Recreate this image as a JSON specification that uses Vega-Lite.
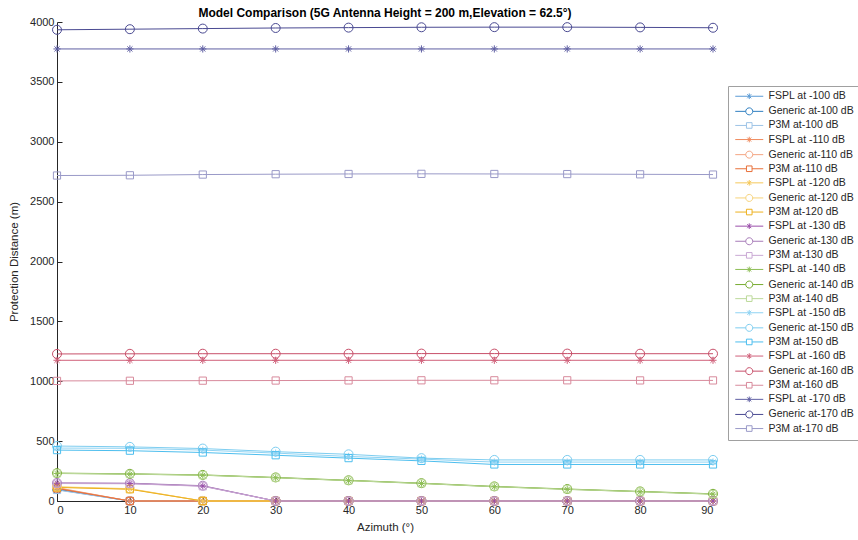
{
  "$schema": "https://vega.github.io/schema/vega-lite/v6.json",
  "autosize": "none",
  "width": 656,
  "height": 479,
  "padding": {"left": 57, "top": 22, "right": 145, "bottom": 39},
  "background": "white",
  "config": {
    "view": {"stroke": null},
    "font": "Liberation Sans",
    "axis": {
      "grid": false,
      "domainColor": "#262626",
      "tickColor": "#262626",
      "labelColor": "#262626",
      "titleColor": "#262626",
      "labelFont": "Liberation Sans",
      "titleFont": "Liberation Sans",
      "labelFontSize": 11,
      "titleFontSize": 11.5,
      "titleFontWeight": "normal",
      "tickSize": -5,
      "labelPadding": 8
    }
  },
  "title": {
    "text": "Model Comparison (5G Antenna Height = 200 m,Elevation = 62.5°)",
    "font": "Liberation Sans",
    "fontSize": 12,
    "fontWeight": "bold",
    "color": "#000000",
    "anchor": "middle",
    "offset": -4
  },
  "data": {
    "values": [
      {"s":"FSPL at -100 dB","a":0,"d":95},{"s":"FSPL at -100 dB","a":10,"d":0},{"s":"FSPL at -100 dB","a":20,"d":0},{"s":"FSPL at -100 dB","a":30,"d":0},{"s":"FSPL at -100 dB","a":40,"d":0},{"s":"FSPL at -100 dB","a":50,"d":0},{"s":"FSPL at -100 dB","a":60,"d":0},{"s":"FSPL at -100 dB","a":70,"d":0},{"s":"FSPL at -100 dB","a":80,"d":0},{"s":"FSPL at -100 dB","a":90,"d":0},
      {"s":"Generic at-100 dB","a":0,"d":100},{"s":"Generic at-100 dB","a":10,"d":0},{"s":"Generic at-100 dB","a":20,"d":0},{"s":"Generic at-100 dB","a":30,"d":0},{"s":"Generic at-100 dB","a":40,"d":0},{"s":"Generic at-100 dB","a":50,"d":0},{"s":"Generic at-100 dB","a":60,"d":0},{"s":"Generic at-100 dB","a":70,"d":0},{"s":"Generic at-100 dB","a":80,"d":0},{"s":"Generic at-100 dB","a":90,"d":0},
      {"s":"P3M at-100 dB","a":0,"d":92},{"s":"P3M at-100 dB","a":10,"d":0},{"s":"P3M at-100 dB","a":20,"d":0},{"s":"P3M at-100 dB","a":30,"d":0},{"s":"P3M at-100 dB","a":40,"d":0},{"s":"P3M at-100 dB","a":50,"d":0},{"s":"P3M at-100 dB","a":60,"d":0},{"s":"P3M at-100 dB","a":70,"d":0},{"s":"P3M at-100 dB","a":80,"d":0},{"s":"P3M at-100 dB","a":90,"d":0},
      {"s":"FSPL at -110 dB","a":0,"d":108},{"s":"FSPL at -110 dB","a":10,"d":0},{"s":"FSPL at -110 dB","a":20,"d":0},{"s":"FSPL at -110 dB","a":30,"d":0},{"s":"FSPL at -110 dB","a":40,"d":0},{"s":"FSPL at -110 dB","a":50,"d":0},{"s":"FSPL at -110 dB","a":60,"d":0},{"s":"FSPL at -110 dB","a":70,"d":0},{"s":"FSPL at -110 dB","a":80,"d":0},{"s":"FSPL at -110 dB","a":90,"d":0},
      {"s":"Generic at-110 dB","a":0,"d":112},{"s":"Generic at-110 dB","a":10,"d":0},{"s":"Generic at-110 dB","a":20,"d":0},{"s":"Generic at-110 dB","a":30,"d":0},{"s":"Generic at-110 dB","a":40,"d":0},{"s":"Generic at-110 dB","a":50,"d":0},{"s":"Generic at-110 dB","a":60,"d":0},{"s":"Generic at-110 dB","a":70,"d":0},{"s":"Generic at-110 dB","a":80,"d":0},{"s":"Generic at-110 dB","a":90,"d":0},
      {"s":"P3M at-110 dB","a":0,"d":105},{"s":"P3M at-110 dB","a":10,"d":0},{"s":"P3M at-110 dB","a":20,"d":0},{"s":"P3M at-110 dB","a":30,"d":0},{"s":"P3M at-110 dB","a":40,"d":0},{"s":"P3M at-110 dB","a":50,"d":0},{"s":"P3M at-110 dB","a":60,"d":0},{"s":"P3M at-110 dB","a":70,"d":0},{"s":"P3M at-110 dB","a":80,"d":0},{"s":"P3M at-110 dB","a":90,"d":0},
      {"s":"FSPL at -120 dB","a":0,"d":116},{"s":"FSPL at -120 dB","a":10,"d":100},{"s":"FSPL at -120 dB","a":20,"d":0},{"s":"FSPL at -120 dB","a":30,"d":0},{"s":"FSPL at -120 dB","a":40,"d":0},{"s":"FSPL at -120 dB","a":50,"d":0},{"s":"FSPL at -120 dB","a":60,"d":0},{"s":"FSPL at -120 dB","a":70,"d":0},{"s":"FSPL at -120 dB","a":80,"d":0},{"s":"FSPL at -120 dB","a":90,"d":0},
      {"s":"Generic at-120 dB","a":0,"d":119},{"s":"Generic at-120 dB","a":10,"d":103},{"s":"Generic at-120 dB","a":20,"d":0},{"s":"Generic at-120 dB","a":30,"d":0},{"s":"Generic at-120 dB","a":40,"d":0},{"s":"Generic at-120 dB","a":50,"d":0},{"s":"Generic at-120 dB","a":60,"d":0},{"s":"Generic at-120 dB","a":70,"d":0},{"s":"Generic at-120 dB","a":80,"d":0},{"s":"Generic at-120 dB","a":90,"d":0},
      {"s":"P3M at-120 dB","a":0,"d":113},{"s":"P3M at-120 dB","a":10,"d":98},{"s":"P3M at-120 dB","a":20,"d":0},{"s":"P3M at-120 dB","a":30,"d":0},{"s":"P3M at-120 dB","a":40,"d":0},{"s":"P3M at-120 dB","a":50,"d":0},{"s":"P3M at-120 dB","a":60,"d":0},{"s":"P3M at-120 dB","a":70,"d":0},{"s":"P3M at-120 dB","a":80,"d":0},{"s":"P3M at-120 dB","a":90,"d":0},
      {"s":"FSPL at -130 dB","a":0,"d":148},{"s":"FSPL at -130 dB","a":10,"d":146},{"s":"FSPL at -130 dB","a":20,"d":125},{"s":"FSPL at -130 dB","a":30,"d":0},{"s":"FSPL at -130 dB","a":40,"d":0},{"s":"FSPL at -130 dB","a":50,"d":0},{"s":"FSPL at -130 dB","a":60,"d":0},{"s":"FSPL at -130 dB","a":70,"d":0},{"s":"FSPL at -130 dB","a":80,"d":0},{"s":"FSPL at -130 dB","a":90,"d":0},
      {"s":"Generic at-130 dB","a":0,"d":151},{"s":"Generic at-130 dB","a":10,"d":149},{"s":"Generic at-130 dB","a":20,"d":128},{"s":"Generic at-130 dB","a":30,"d":0},{"s":"Generic at-130 dB","a":40,"d":0},{"s":"Generic at-130 dB","a":50,"d":0},{"s":"Generic at-130 dB","a":60,"d":0},{"s":"Generic at-130 dB","a":70,"d":0},{"s":"Generic at-130 dB","a":80,"d":0},{"s":"Generic at-130 dB","a":90,"d":0},
      {"s":"P3M at-130 dB","a":0,"d":146},{"s":"P3M at-130 dB","a":10,"d":144},{"s":"P3M at-130 dB","a":20,"d":123},{"s":"P3M at-130 dB","a":30,"d":0},{"s":"P3M at-130 dB","a":40,"d":0},{"s":"P3M at-130 dB","a":50,"d":0},{"s":"P3M at-130 dB","a":60,"d":0},{"s":"P3M at-130 dB","a":70,"d":0},{"s":"P3M at-130 dB","a":80,"d":0},{"s":"P3M at-130 dB","a":90,"d":0},
      {"s":"FSPL at -140 dB","a":0,"d":230},{"s":"FSPL at -140 dB","a":10,"d":224},{"s":"FSPL at -140 dB","a":20,"d":215},{"s":"FSPL at -140 dB","a":30,"d":194},{"s":"FSPL at -140 dB","a":40,"d":170},{"s":"FSPL at -140 dB","a":50,"d":146},{"s":"FSPL at -140 dB","a":60,"d":119},{"s":"FSPL at -140 dB","a":70,"d":97},{"s":"FSPL at -140 dB","a":80,"d":77},{"s":"FSPL at -140 dB","a":90,"d":57},
      {"s":"Generic at-140 dB","a":0,"d":233},{"s":"Generic at-140 dB","a":10,"d":227},{"s":"Generic at-140 dB","a":20,"d":218},{"s":"Generic at-140 dB","a":30,"d":197},{"s":"Generic at-140 dB","a":40,"d":173},{"s":"Generic at-140 dB","a":50,"d":149},{"s":"Generic at-140 dB","a":60,"d":122},{"s":"Generic at-140 dB","a":70,"d":100},{"s":"Generic at-140 dB","a":80,"d":80},{"s":"Generic at-140 dB","a":90,"d":60},
      {"s":"P3M at-140 dB","a":0,"d":231},{"s":"P3M at-140 dB","a":10,"d":225},{"s":"P3M at-140 dB","a":20,"d":216},{"s":"P3M at-140 dB","a":30,"d":195},{"s":"P3M at-140 dB","a":40,"d":171},{"s":"P3M at-140 dB","a":50,"d":147},{"s":"P3M at-140 dB","a":60,"d":120},{"s":"P3M at-140 dB","a":70,"d":98},{"s":"P3M at-140 dB","a":80,"d":78},{"s":"P3M at-140 dB","a":90,"d":58},
      {"s":"FSPL at -150 dB","a":0,"d":442},{"s":"FSPL at -150 dB","a":10,"d":440},{"s":"FSPL at -150 dB","a":20,"d":425},{"s":"FSPL at -150 dB","a":30,"d":400},{"s":"FSPL at -150 dB","a":40,"d":372},{"s":"FSPL at -150 dB","a":50,"d":350},{"s":"FSPL at -150 dB","a":60,"d":325},{"s":"FSPL at -150 dB","a":70,"d":325},{"s":"FSPL at -150 dB","a":80,"d":325},{"s":"FSPL at -150 dB","a":90,"d":325},
      {"s":"Generic at-150 dB","a":0,"d":459},{"s":"Generic at-150 dB","a":10,"d":452},{"s":"Generic at-150 dB","a":20,"d":438},{"s":"Generic at-150 dB","a":30,"d":412},{"s":"Generic at-150 dB","a":40,"d":390},{"s":"Generic at-150 dB","a":50,"d":358},{"s":"Generic at-150 dB","a":60,"d":343},{"s":"Generic at-150 dB","a":70,"d":343},{"s":"Generic at-150 dB","a":80,"d":343},{"s":"Generic at-150 dB","a":90,"d":343},
      {"s":"P3M at-150 dB","a":0,"d":425},{"s":"P3M at-150 dB","a":10,"d":420},{"s":"P3M at-150 dB","a":20,"d":405},{"s":"P3M at-150 dB","a":30,"d":382},{"s":"P3M at-150 dB","a":40,"d":358},{"s":"P3M at-150 dB","a":50,"d":335},{"s":"P3M at-150 dB","a":60,"d":305},{"s":"P3M at-150 dB","a":70,"d":305},{"s":"P3M at-150 dB","a":80,"d":305},{"s":"P3M at-150 dB","a":90,"d":305},
      {"s":"FSPL at -160 dB","a":0,"d":1175},{"s":"FSPL at -160 dB","a":10,"d":1175},{"s":"FSPL at -160 dB","a":20,"d":1175},{"s":"FSPL at -160 dB","a":30,"d":1175},{"s":"FSPL at -160 dB","a":40,"d":1175},{"s":"FSPL at -160 dB","a":50,"d":1175},{"s":"FSPL at -160 dB","a":60,"d":1175},{"s":"FSPL at -160 dB","a":70,"d":1175},{"s":"FSPL at -160 dB","a":80,"d":1175},{"s":"FSPL at -160 dB","a":90,"d":1175},
      {"s":"Generic at-160 dB","a":0,"d":1228},{"s":"Generic at-160 dB","a":10,"d":1229},{"s":"Generic at-160 dB","a":20,"d":1230},{"s":"Generic at-160 dB","a":30,"d":1230},{"s":"Generic at-160 dB","a":40,"d":1230},{"s":"Generic at-160 dB","a":50,"d":1231},{"s":"Generic at-160 dB","a":60,"d":1231},{"s":"Generic at-160 dB","a":70,"d":1231},{"s":"Generic at-160 dB","a":80,"d":1230},{"s":"Generic at-160 dB","a":90,"d":1230},
      {"s":"P3M at-160 dB","a":0,"d":1003},{"s":"P3M at-160 dB","a":10,"d":1004},{"s":"P3M at-160 dB","a":20,"d":1005},{"s":"P3M at-160 dB","a":30,"d":1006},{"s":"P3M at-160 dB","a":40,"d":1007},{"s":"P3M at-160 dB","a":50,"d":1008},{"s":"P3M at-160 dB","a":60,"d":1008},{"s":"P3M at-160 dB","a":70,"d":1008},{"s":"P3M at-160 dB","a":80,"d":1007},{"s":"P3M at-160 dB","a":90,"d":1007},
      {"s":"FSPL at -170 dB","a":0,"d":3775},{"s":"FSPL at -170 dB","a":10,"d":3775},{"s":"FSPL at -170 dB","a":20,"d":3775},{"s":"FSPL at -170 dB","a":30,"d":3775},{"s":"FSPL at -170 dB","a":40,"d":3775},{"s":"FSPL at -170 dB","a":50,"d":3775},{"s":"FSPL at -170 dB","a":60,"d":3775},{"s":"FSPL at -170 dB","a":70,"d":3775},{"s":"FSPL at -170 dB","a":80,"d":3775},{"s":"FSPL at -170 dB","a":90,"d":3775},
      {"s":"Generic at-170 dB","a":0,"d":3935},{"s":"Generic at-170 dB","a":10,"d":3940},{"s":"Generic at-170 dB","a":20,"d":3945},{"s":"Generic at-170 dB","a":30,"d":3950},{"s":"Generic at-170 dB","a":40,"d":3953},{"s":"Generic at-170 dB","a":50,"d":3956},{"s":"Generic at-170 dB","a":60,"d":3957},{"s":"Generic at-170 dB","a":70,"d":3957},{"s":"Generic at-170 dB","a":80,"d":3955},{"s":"Generic at-170 dB","a":90,"d":3952},
      {"s":"P3M at-170 dB","a":0,"d":2718},{"s":"P3M at-170 dB","a":10,"d":2720},{"s":"P3M at-170 dB","a":20,"d":2726},{"s":"P3M at-170 dB","a":30,"d":2729},{"s":"P3M at-170 dB","a":40,"d":2731},{"s":"P3M at-170 dB","a":50,"d":2732},{"s":"P3M at-170 dB","a":60,"d":2731},{"s":"P3M at-170 dB","a":70,"d":2730},{"s":"P3M at-170 dB","a":80,"d":2728},{"s":"P3M at-170 dB","a":90,"d":2726}
    ]
  },
  "encoding": {
    "x": {
      "field": "a", "type": "quantitative", "title": "Azimuth (°)",
      "scale": {"domain": [0, 90], "nice": false},
      "axis": {"values": [0,10,20,30,40,50,60,70,80,90], "titlePadding": 6}
    },
    "y": {
      "field": "d", "type": "quantitative", "title": "Protection Distance (m)",
      "scale": {"domain": [0, 4000], "nice": false},
      "axis": {"values": [0,500,1000,1500,2000,2500,3000,3500,4000], "format": "d", "titlePadding": 10}
    },
    "color": {
      "field": "s", "type": "nominal", "legend": null,
      "scale": {
        "domain": ["FSPL at -100 dB","Generic at-100 dB","P3M at-100 dB","FSPL at -110 dB","Generic at-110 dB","P3M at-110 dB","FSPL at -120 dB","Generic at-120 dB","P3M at-120 dB","FSPL at -130 dB","Generic at-130 dB","P3M at-130 dB","FSPL at -140 dB","Generic at-140 dB","P3M at-140 dB","FSPL at -150 dB","Generic at-150 dB","P3M at-150 dB","FSPL at -160 dB","Generic at-160 dB","P3M at-160 dB","FSPL at -170 dB","Generic at-170 dB","P3M at-170 dB"],
        "range": ["#5b9bd5","#2f7fc1","#9dc3e6","#f08a5d","#f4a582","#e8703a","#f5c85a","#f7d37a","#edb120","#9a4faa","#a77bb8","#c9a8d4","#8dbe54","#77ac30","#bcd99a","#8fd3f3","#7dcdf0","#4dbeee","#d0607a","#c8506a","#d88a9c","#5f5fa3","#4a4a92","#9a9ac8"]
      }
    }
  },
  "layer": [
    {
      "mark": {"type": "line", "strokeWidth": 1},
      "encoding": {"order": {"field": "a", "type": "quantitative"}}
    },
    {
      "mark": {"type": "point", "filled": false, "strokeWidth": 1, "size": 81, "opacity": 1},
      "encoding": {
        "shape": {
          "field": "s", "type": "nominal", "legend": null,
          "scale": {
            "domain": ["FSPL at -100 dB","Generic at-100 dB","P3M at-100 dB","FSPL at -110 dB","Generic at-110 dB","P3M at-110 dB","FSPL at -120 dB","Generic at-120 dB","P3M at-120 dB","FSPL at -130 dB","Generic at-130 dB","P3M at-130 dB","FSPL at -140 dB","Generic at-140 dB","P3M at-140 dB","FSPL at -150 dB","Generic at-150 dB","P3M at-150 dB","FSPL at -160 dB","Generic at-160 dB","P3M at-160 dB","FSPL at -170 dB","Generic at-170 dB","P3M at-170 dB"],
            "range": [
              "M-0.8,0H0.8M0,-0.8V0.8M-0.57,-0.57L0.57,0.57M-0.57,0.57L0.57,-0.57","M1,0A1,1,0,1,1,-1,0A1,1,0,1,1,1,0Z","M-0.8,-0.8H0.8V0.8H-0.8Z",
              "M-0.8,0H0.8M0,-0.8V0.8M-0.57,-0.57L0.57,0.57M-0.57,0.57L0.57,-0.57","M1,0A1,1,0,1,1,-1,0A1,1,0,1,1,1,0Z","M-0.8,-0.8H0.8V0.8H-0.8Z",
              "M-0.8,0H0.8M0,-0.8V0.8M-0.57,-0.57L0.57,0.57M-0.57,0.57L0.57,-0.57","M1,0A1,1,0,1,1,-1,0A1,1,0,1,1,1,0Z","M-0.8,-0.8H0.8V0.8H-0.8Z",
              "M-0.8,0H0.8M0,-0.8V0.8M-0.57,-0.57L0.57,0.57M-0.57,0.57L0.57,-0.57","M1,0A1,1,0,1,1,-1,0A1,1,0,1,1,1,0Z","M-0.8,-0.8H0.8V0.8H-0.8Z",
              "M-0.8,0H0.8M0,-0.8V0.8M-0.57,-0.57L0.57,0.57M-0.57,0.57L0.57,-0.57","M1,0A1,1,0,1,1,-1,0A1,1,0,1,1,1,0Z","M-0.8,-0.8H0.8V0.8H-0.8Z",
              "M-0.8,0H0.8M0,-0.8V0.8M-0.57,-0.57L0.57,0.57M-0.57,0.57L0.57,-0.57","M1,0A1,1,0,1,1,-1,0A1,1,0,1,1,1,0Z","M-0.8,-0.8H0.8V0.8H-0.8Z",
              "M-0.8,0H0.8M0,-0.8V0.8M-0.57,-0.57L0.57,0.57M-0.57,0.57L0.57,-0.57","M1,0A1,1,0,1,1,-1,0A1,1,0,1,1,1,0Z","M-0.8,-0.8H0.8V0.8H-0.8Z",
              "M-0.8,0H0.8M0,-0.8V0.8M-0.57,-0.57L0.57,0.57M-0.57,0.57L0.57,-0.57","M1,0A1,1,0,1,1,-1,0A1,1,0,1,1,1,0Z","M-0.8,-0.8H0.8V0.8H-0.8Z"
            ]
          }
        }
      }
    },
    {
      "transform": [{"filter": "false"}],
      "mark": {"type": "point", "filled": false, "strokeWidth": 1, "size": 49, "opacity": 1},
      "encoding": {
        "shape": {
          "field": "s", "type": "nominal",
          "scale": {
            "domain": ["FSPL at -100 dB","Generic at-100 dB","P3M at-100 dB","FSPL at -110 dB","Generic at-110 dB","P3M at-110 dB","FSPL at -120 dB","Generic at-120 dB","P3M at-120 dB","FSPL at -130 dB","Generic at-130 dB","P3M at-130 dB","FSPL at -140 dB","Generic at-140 dB","P3M at-140 dB","FSPL at -150 dB","Generic at-150 dB","P3M at-150 dB","FSPL at -160 dB","Generic at-160 dB","P3M at-160 dB","FSPL at -170 dB","Generic at-170 dB","P3M at-170 dB"],
            "range": [
              "M-4,0H4M0,-0.8V0.8M-0.57,-0.57L0.57,0.57M-0.57,0.57L0.57,-0.57","M-4,0H-1M1,0H4M1,0A1,1,0,1,1,-1,0A1,1,0,1,1,1,0Z","M-4,0H-0.8M0.8,0H4M-0.8,-0.8H0.8V0.8H-0.8Z",
              "M-4,0H4M0,-0.8V0.8M-0.57,-0.57L0.57,0.57M-0.57,0.57L0.57,-0.57","M-4,0H-1M1,0H4M1,0A1,1,0,1,1,-1,0A1,1,0,1,1,1,0Z","M-4,0H-0.8M0.8,0H4M-0.8,-0.8H0.8V0.8H-0.8Z",
              "M-4,0H4M0,-0.8V0.8M-0.57,-0.57L0.57,0.57M-0.57,0.57L0.57,-0.57","M-4,0H-1M1,0H4M1,0A1,1,0,1,1,-1,0A1,1,0,1,1,1,0Z","M-4,0H-0.8M0.8,0H4M-0.8,-0.8H0.8V0.8H-0.8Z",
              "M-4,0H4M0,-0.8V0.8M-0.57,-0.57L0.57,0.57M-0.57,0.57L0.57,-0.57","M-4,0H-1M1,0H4M1,0A1,1,0,1,1,-1,0A1,1,0,1,1,1,0Z","M-4,0H-0.8M0.8,0H4M-0.8,-0.8H0.8V0.8H-0.8Z",
              "M-4,0H4M0,-0.8V0.8M-0.57,-0.57L0.57,0.57M-0.57,0.57L0.57,-0.57","M-4,0H-1M1,0H4M1,0A1,1,0,1,1,-1,0A1,1,0,1,1,1,0Z","M-4,0H-0.8M0.8,0H4M-0.8,-0.8H0.8V0.8H-0.8Z",
              "M-4,0H4M0,-0.8V0.8M-0.57,-0.57L0.57,0.57M-0.57,0.57L0.57,-0.57","M-4,0H-1M1,0H4M1,0A1,1,0,1,1,-1,0A1,1,0,1,1,1,0Z","M-4,0H-0.8M0.8,0H4M-0.8,-0.8H0.8V0.8H-0.8Z",
              "M-4,0H4M0,-0.8V0.8M-0.57,-0.57L0.57,0.57M-0.57,0.57L0.57,-0.57","M-4,0H-1M1,0H4M1,0A1,1,0,1,1,-1,0A1,1,0,1,1,1,0Z","M-4,0H-0.8M0.8,0H4M-0.8,-0.8H0.8V0.8H-0.8Z",
              "M-4,0H4M0,-0.8V0.8M-0.57,-0.57L0.57,0.57M-0.57,0.57L0.57,-0.57","M-4,0H-1M1,0H4M1,0A1,1,0,1,1,-1,0A1,1,0,1,1,1,0Z","M-4,0H-0.8M0.8,0H4M-0.8,-0.8H0.8V0.8H-0.8Z"
            ]
          },
          "legend": {
            "title": null,
            "orient": "none",
            "legendX": 671,
            "legendY": 64,
            "padding": 5,
            "strokeColor": "#a0a0a0",
            "fillColor": "#ffffff",
            "labelFont": "Liberation Sans",
            "labelFontSize": 10.5,
            "labelColor": "#262626",
            "symbolSize": 49,
            "symbolStrokeWidth": 1,
            "symbolOpacity": 1,
            "symbolOffset": 11,
            "labelOffset": 14,
            "rowPadding": 3.1,
            "symbolFillColor": "transparent",
            "symbolStrokeColor": {"expr": "scale('color', datum.value)"}
          }
        }
      }
    }
  ],
  "resolve": {"scale": {"shape": "independent"}}
}
